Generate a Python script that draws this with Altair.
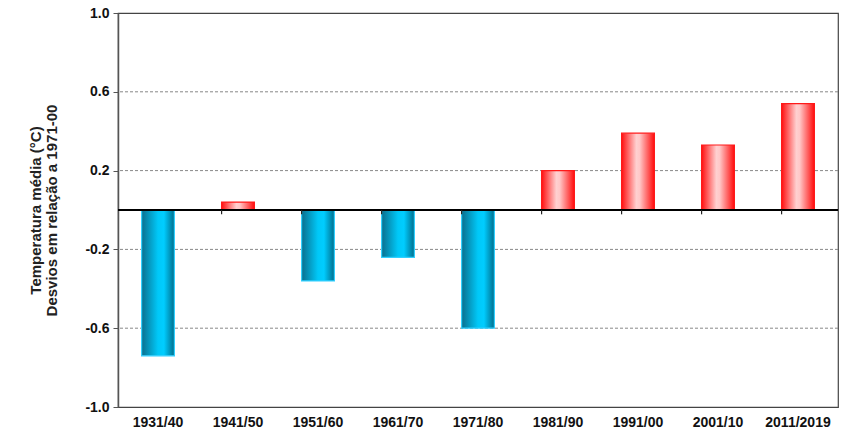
import altair as alt
import pandas as pd

periods = ["1931/40", "1941/50", "1951/60", "1961/70", "1971/80",
           "1981/90", "1991/00", "2001/10", "2011/2019"]
anomalies = [-0.74, 0.04, -0.36, -0.24, -0.60, 0.20, 0.39, 0.33, 0.54]
y_ticks = [-1.0, -0.6, -0.2, 0.2, 0.6, 1.0]
grid_values = [-0.6, -0.2, 0.2, 0.6]
y_title = ["Temperatura média (°C)", "Desvios em relação a 1971-00"]

df = pd.DataFrame({"period": periods, "value": anomalies})
neg = df[df["value"] < 0]
pos = df[df["value"] >= 0]
bounds = pd.DataFrame({"period": periods[1:]})
grid = pd.DataFrame({"value": grid_values})

FONT = "Liberation Sans"

xscale = alt.Scale(domain=periods, paddingInner=0.59, paddingOuter=0.295)
yscale = alt.Scale(domain=[-1, 1], nice=False, zero=False)

xaxis = alt.Axis(title=None, ticks=False, domain=False, grid=False, labelAngle=0,
                 labelFont=FONT, labelFontWeight="bold", labelFontSize=14,
                 labelPadding=8, labelColor="#111")
yaxis = alt.Axis(values=y_ticks, format=".1f", grid=False, title=y_title,
                 labelExpr="replace(datum.label, '\u2212', '-')",
                 labelFont=FONT, labelFontWeight="bold", labelFontSize=14,
                 labelColor="#111", labelPadding=4, tickSize=5, tickColor="#555",
                 domainColor="#555", domainWidth=1.5,
                 titleFont=FONT, titleFontWeight="bold", titleFontSize=15,
                 titleColor="#222", titleLineHeight=16, titleX=-83, titleY=197,
                 titleAngle=270, titleBaseline="middle", titleAlign="center")

X = alt.X("period:N", scale=xscale, sort=periods, axis=xaxis)
Y = alt.Y("value:Q", scale=yscale, axis=yaxis)

blue_grad = alt.Gradient(
    gradient="linear", x1=0, x2=1, y1=0, y2=0,
    stops=[alt.GradientStop(offset=0, color="#0a6f8e"),
           alt.GradientStop(offset=0.5, color="#00c8f8"),
           alt.GradientStop(offset=0.68, color="#00cdff"),
           alt.GradientStop(offset=1, color="#006d8c")])
red_grad = alt.Gradient(
    gradient="linear", x1=0, x2=1, y1=0, y2=0,
    stops=[alt.GradientStop(offset=0, color="#ff1010"),
           alt.GradientStop(offset=0.45, color="#ffd0d0"),
           alt.GradientStop(offset=0.55, color="#ffc8c8"),
           alt.GradientStop(offset=1, color="#ff0c0c")])

gridlines = alt.Chart(grid).mark_rule(color="#888", strokeDash=[3, 2], strokeWidth=1).encode(
    y=Y)

neg_bars = alt.Chart(neg).mark_bar(fill=blue_grad, stroke="#30d0ff", strokeWidth=1.2).encode(
    x=X, y=Y, y2=alt.datum(0))

pos_bars = alt.Chart(pos).mark_bar(fill=red_grad, stroke="#ff1a1a", strokeWidth=1.2).encode(
    x=X, y=Y, y2=alt.datum(0))

zero_line = alt.Chart(df).mark_rule(color="#000", strokeWidth=1).encode(
    y=alt.datum(0))

ticks = alt.Chart(bounds).mark_rule(color="#222", strokeWidth=1.2).encode(
    x=alt.X("period:N", scale=xscale, sort=periods, axis=xaxis, bandPosition=0),
    y=alt.datum(0), y2=alt.datum(-0.022))

chart = alt.layer(gridlines, neg_bars, pos_bars, zero_line, ticks).properties(
    width=720, height=394,
    autosize=alt.AutoSizeParams(type="none"),
    padding={"left": 110, "top": 5, "right": 12, "bottom": 24},
    background="white",
).configure_view(stroke="#444", strokeWidth=1.2)

chart.save("out.html", embed_options={"renderer": "svg", "actions": False})
